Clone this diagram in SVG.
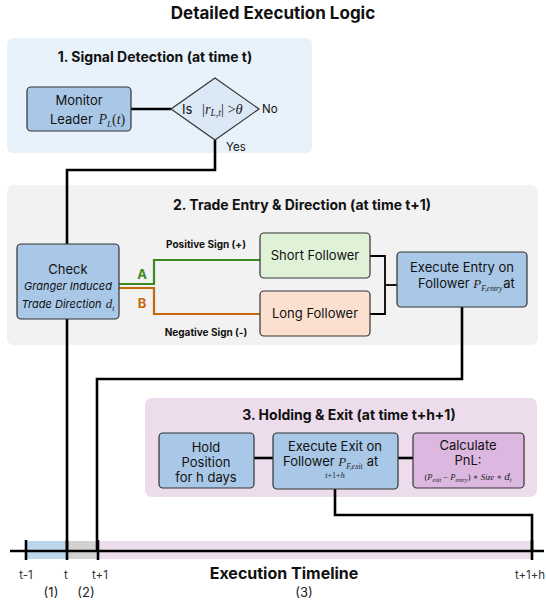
<svg xmlns="http://www.w3.org/2000/svg" width="546" height="603" viewBox="0 0 546 603">
<style>
.t{font-family:Inter,"Liberation Sans",sans-serif;fill:#111}
.h{font-family:Inter,"Liberation Sans",sans-serif;font-weight:bold;fill:#111}
.m{font-family:"Liberation Serif","DejaVu Serif",serif;font-style:italic;fill:#222}
.box{stroke:#333;stroke-width:1.2}
.blue{fill:#a9c8e7}
.c{fill:none;stroke:#000;stroke-width:2.6}
</style>
<rect width="546" height="603" fill="#fff"/>
<text class="h" x="273" y="19" font-size="17" text-anchor="middle">Detailed Execution Logic</text>

<g id="panel1">
<rect x="7" y="38" width="305" height="115" rx="6" fill="#e8f2fa"/>
<text class="h" x="155" y="62" font-size="14" text-anchor="middle">1. Signal Detection (at time t)</text>
</g>
<g id="panel2">
<rect x="7" y="185" width="531" height="160" rx="7" fill="#f2f2f2"/>
<text class="h" x="302" y="210" font-size="14" text-anchor="middle">2. Trade Entry &amp; Direction (at time t+1)</text>
</g>
<g id="panel3">
<rect x="145" y="398" width="392" height="99" rx="7" fill="#ecdcec"/>
<text class="h" x="349" y="420" font-size="14" text-anchor="middle">3. Holding &amp; Exit (at time t+h+1)</text>
</g>

<g id="timeline">
<rect x="26" y="541" width="41" height="18" fill="#bcd6ec"/>
<rect x="67" y="541" width="31" height="18" fill="#d2d2d2"/>
<rect x="98" y="541" width="434" height="18" fill="#ecdcec"/>
<line x1="10" y1="551" x2="544" y2="551" stroke="#000" stroke-width="2.6"/>
<g stroke="#000" stroke-width="2.6">
<line x1="26" y1="540" x2="26" y2="560"/>
<line x1="67" y1="540" x2="67" y2="560"/>
<line x1="98" y1="540" x2="98" y2="560"/>
<line x1="532" y1="540" x2="532" y2="560"/>
</g>
<g class="t" font-size="11.5" text-anchor="middle">
<text x="26" y="579" style="fill:#333">t-1</text>
<text x="66" y="579" style="fill:#333">t</text>
<text x="100" y="579" style="fill:#333">t+1</text>
<text x="530" y="579" style="fill:#333">t+1+h</text>
</g>
<text class="h" x="284" y="579" font-size="16" text-anchor="middle">Execution Timeline</text>
<g class="t" font-size="13" text-anchor="middle">
<text x="51" y="597" style="fill:#222">(1)</text>
<text x="86" y="597" style="fill:#222">(2)</text>
<text x="304" y="597" style="fill:#222">(3)</text>
</g>
</g>

<g id="connectors">
<line class="c" x1="131" y1="109" x2="171" y2="109"/>
<polyline class="c" points="215,140 215,170 67,170 67,244"/>
<line class="c" x1="67" y1="319" x2="67" y2="551"/>
<polyline fill="none" stroke="#3a8a1f" stroke-width="2.2" points="119,284 154,284 154,260 260,260"/>
<polyline fill="none" stroke="#c8660c" stroke-width="2.2" points="119,288 154,288 154,314 260,314"/>
<polyline fill="none" stroke="#000" stroke-width="1.8" points="370,256 385,256 385,314 370,314"/>
<line stroke="#000" stroke-width="1.8" x1="385" y1="285" x2="397" y2="285"/>
<polyline class="c" points="462,307 462,379 97,379 97,551"/>
<line class="c" x1="254" y1="458" x2="273" y2="458"/>
<line class="c" x1="398" y1="458" x2="413" y2="458"/>
<polyline class="c" points="335,489 335,515 532,515 532,551"/>
</g>

<g id="monitor">
<rect class="box blue" x="27" y="87" width="104" height="44" rx="4"/>
<text class="t" x="79" y="105" font-size="13" text-anchor="middle">Monitor</text>
<text class="t" x="50" y="124" font-size="13">Leader <tspan class="m" font-size="14" dx="2">P</tspan><tspan class="m" font-size="9" dy="3">L</tspan><tspan class="m" font-size="14" dy="-3" style="font-style:normal">(</tspan><tspan class="m" font-size="14">t</tspan><tspan class="m" font-size="14" style="font-style:normal">)</tspan></text>
</g>

<g id="decision">
<polygon class="box" fill="#dbe8f5" points="171,109 215,78 259,109 215,140"/>
<text class="t" x="182" y="114" font-size="13">Is</text>
<text class="m" x="202" y="114" font-size="14.5"><tspan style="font-style:normal">|</tspan>r<tspan font-size="9.5" dy="2">L,t</tspan><tspan dy="-2" style="font-style:normal">| &gt;</tspan>θ</text>
<text class="t" x="262" y="113" font-size="11.5">No</text>
<text class="t" x="226" y="151" font-size="11.5">Yes</text>
</g>

<g id="check">
<rect class="box blue" x="17" y="244" width="102" height="75" rx="4"/>
<text class="t" x="68" y="274" font-size="13" text-anchor="middle">Check</text>
<text class="t" x="68" y="290" font-size="11" font-style="italic" text-anchor="middle">Granger Induced</text>
<text class="t" x="68" y="308" font-size="11" font-style="italic" text-anchor="middle">Trade Direction <tspan class="m" font-size="13" dx="1">d</tspan><tspan class="m" font-size="8" dy="3">t</tspan></text>
</g>

<g id="labels">
<text class="h" x="142" y="279" font-size="13" text-anchor="middle" style="fill:#3a8a1f">A</text>
<text class="h" x="142" y="308" font-size="13" text-anchor="middle" style="fill:#c8660c">B</text>
<text class="h" x="206" y="248" font-size="10" text-anchor="middle">Positive Sign (+)</text>
<text class="h" x="206" y="336" font-size="10" text-anchor="middle">Negative Sign (-)</text>
</g>

<g id="short">
<rect class="box" fill="#dff2d8" x="260" y="233" width="110" height="45" rx="4"/>
<text class="t" x="315" y="260" font-size="13" text-anchor="middle">Short Follower</text>
</g>
<g id="long">
<rect class="box" fill="#fbe0cf" x="260" y="291" width="110" height="45" rx="4"/>
<text class="t" x="315" y="318" font-size="13" text-anchor="middle">Long Follower</text>
</g>

<g id="entry">
<rect class="box blue" x="397" y="252" width="130" height="55" rx="4"/>
<text class="t" x="462" y="272" font-size="13" text-anchor="middle">Execute Entry on</text>
<text class="t" x="418" y="288" font-size="13">Follower <tspan class="m" font-size="13">P</tspan><tspan class="m" font-size="7.5" dy="3">F,entry</tspan><tspan dy="-3" dx="1">at</tspan></text>
</g>

<g id="hold">
<rect class="box blue" x="159" y="433" width="95" height="55" rx="4"/>
<text class="t" x="206" y="452" font-size="13" text-anchor="middle">Hold</text>
<text class="t" x="206" y="467" font-size="13" text-anchor="middle">Position</text>
<text class="t" x="206" y="482" font-size="13" text-anchor="middle">for h days</text>
</g>

<g id="exit">
<rect class="box blue" x="273" y="433" width="125" height="56" rx="4"/>
<text class="t" x="335" y="451" font-size="13" text-anchor="middle">Execute Exit on</text>
<text class="t" x="283" y="466" font-size="13">Follower <tspan class="m" font-size="13">P</tspan><tspan class="m" font-size="7.5" dy="3">F,exit</tspan><tspan dy="-3" dx="4">at</tspan></text>
<text class="m" x="335" y="478" font-size="8" text-anchor="middle">t<tspan style="font-style:normal">+1+</tspan>h</text>
</g>

<g id="pnl">
<rect class="box" fill="#dcb7df" x="413" y="433" width="111" height="55" rx="4"/>
<text class="t" x="468" y="450" font-size="13" text-anchor="middle">Calculate</text>
<text class="t" x="468" y="465" font-size="13" text-anchor="middle">PnL:</text>
<text class="m" x="468" y="480" font-size="8.5" text-anchor="middle"><tspan style="font-style:normal">(</tspan>P<tspan font-size="6" dy="1.5">exit</tspan><tspan dy="-1.5" style="font-style:normal"> − </tspan>P<tspan font-size="6" dy="1.5">entry</tspan><tspan dy="-1.5" style="font-style:normal">) ∗ </tspan>Size<tspan style="font-style:normal"> ∗ </tspan><tspan font-size="11">d</tspan><tspan font-size="6" dy="1.5">t</tspan></text>
</g>
</svg>
